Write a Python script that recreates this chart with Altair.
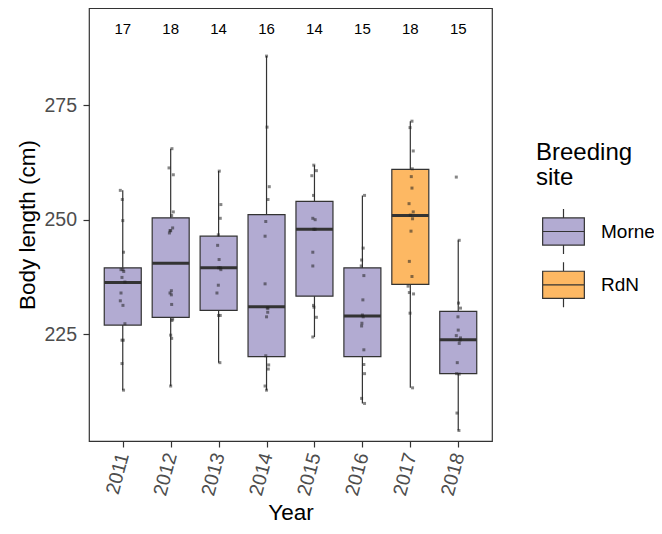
import altair as alt
import pandas as pd

# ---------------- data ----------------
years = [2011, 2012, 2013, 2014, 2015, 2016, 2017, 2018]
sites = ["Morne", "Morne", "Morne", "Morne", "Morne", "Morne", "RdN", "Morne"]
counts = [17, 18, 14, 16, 14, 15, 18, 15]
whisker_low = [212.8, 213.7, 218.8, 212.8, 224.4, 209.9, 213.3, 204.0]
q1 = [227.0, 228.7, 230.2, 220.1, 233.3, 220.1, 235.9, 216.4]
median = [236.3, 240.5, 239.5, 231.0, 247.9, 229.0, 250.9, 223.8]
q3 = [239.5, 250.4, 246.4, 251.1, 254.0, 239.5, 261.0, 230.0]
whisker_high = [256.4, 265.5, 260.6, 285.7, 261.9, 255.3, 271.5, 245.5]

len_2011 = [256.4, 254.4, 249.8, 242.9, 239.1, 239.1, 238.7, 237.4, 236.4, 234.0, 232.3, 231.3, 227.3, 223.7, 223.7, 218.6, 212.8]
jit_2011 = [-2.5, -0.5, 0, 0.8, -1.8, 0.2, 1.0, -0.8, 2.2, -1.8, -2.5, 0.2, 2.2, -0.8, 0.5, -0.8, 0.8]
len_2012 = [265.5, 261.3, 259.8, 251.7, 250.9, 248.2, 247.6, 247.6, 247.1, 234.5, 234.0, 233.6, 231.5, 228.3, 228.0, 224.8, 224.1, 213.7]
jit_2012 = [1.3, -1.7, 2.7, 2.7, 1.0, 2.0, -0.7, 0, -1.3, 0.7, -0.7, 0.7, 1.0, 2.0, 1.3, 0, 1.0, 0]
len_2013 = [260.6, 253.3, 250.3, 246.7, 244.4, 241.3, 239.5, 239.5, 239.1, 235.7, 234.0, 229.1, 229.1, 218.8]
jit_2013 = [0.7, 2.3, 1.7, -0.3, -1.0, 0.5, 0, 1.7, 2.3, -0.3, -1.7, 0, 1.7, 1.3]
len_2014 = [285.7, 270.2, 257.2, 254.4, 249.6, 246.4, 236.0, 230.7, 230.7, 229.8, 228.8, 220.3, 218.3, 217.4, 213.7, 212.8]
jit_2014 = [0, 0.5, 2.8, 1.5, -0.8, -1.5, -1.5, 0.8, 1.5, 1.2, 0, -0.8, 2.2, 1.8, -1.5, 0]
len_2015 = [261.9, 260.7, 259.6, 255.3, 250.3, 250.0, 247.9, 247.9, 242.9, 239.9, 231.3, 230.9, 228.7, 224.4]
jit_2015 = [-0.7, 2.0, -2.7, -1.0, -1.7, 0.7, -0.7, 0.7, -1.7, -1.7, -1.0, -0.5, 2.0, -1.7]
len_2016 = [255.3, 243.8, 241.2, 239.9, 237.8, 232.5, 229.2, 228.8, 227.4, 226.8, 221.6, 218.4, 216.4, 211.0, 209.9]
jit_2016 = [2.2, 0.8, -0.8, -1.2, 1.5, 0.5, 0, 0.8, -0.5, -0.8, 1.5, 1.5, 2.2, -0.8, 2.2]
len_2017 = [271.5, 270.1, 265.0, 261.1, 259.4, 256.9, 253.5, 251.7, 251.0, 250.2, 247.5, 240.9, 237.6, 235.5, 234.1, 233.8, 229.6, 213.3]
jit_2017 = [1.7, -0.3, 3.0, 2.0, 1.0, 1.7, -1.3, 3.0, 0, 2.3, 0.7, -1.0, 1.7, -2.3, -1.0, 3.3, -0.3, 2.3]
len_2018 = [259.3, 245.5, 231.8, 230.7, 228.8, 225.9, 224.7, 224.2, 223.7, 223.0, 218.8, 216.4, 216.3, 207.8, 204.0]
jit_2018 = [-2.0, 1.0, 0.3, 2.3, -0.3, 0, -2.0, 2.3, 1.7, 1.0, -1.0, -1.7, 1.0, -1.3, 0.7]

site_names = ["Morne", "RdN"]
site_colors = ["#B2ABD2", "#FDB863"]

# ---------------- tables ----------------
stats = pd.DataFrame({
    "year": years, "site": sites, "n": counts,
    "lo": whisker_low, "q1": q1, "med": median, "q3": q3, "hi": whisker_high,
})

all_len = [len_2011, len_2012, len_2013, len_2014, len_2015, len_2016, len_2017, len_2018]
all_jit = [jit_2011, jit_2012, jit_2013, jit_2014, jit_2015, jit_2016, jit_2017, jit_2018]
rows = []
for yr, ls, js in zip(years, all_len, all_jit):
    for v, j in zip(ls, js):
        rows.append({"year": yr, "len": v, "xj": yr + j / 49.1})
pts = pd.DataFrame(rows)

FONT = "Liberation Sans"
xscale = alt.Scale(domain=[2010.4, 2018.6], nice=False, zero=False)
yscale = alt.Scale(domain=[201.7, 296.2], nice=False, zero=False)
xaxis = alt.Axis(title="Year", values=years, format="d", labelAngle=-75, labelAlign="right",
                 labelBaseline="middle", labelPadding=6, grid=False, domain=False,
                 tickColor="#333333", tickSize=6, tickWidth=1.2,
                 labelColor="#4D4D4D", labelFontSize=19.5, labelFont=FONT,
                 titleColor="black", titleFontSize=22.5, titleFont=FONT, titleFontWeight="normal",
                 titlePadding=4)
yaxis = alt.Axis(title="Body length (cm)", values=[225, 250, 275], grid=False, domain=False,
                 tickColor="#333333", tickSize=6, tickWidth=1.2, labelPadding=6.5,
                 labelColor="#4D4D4D", labelFontSize=19.5, labelFont=FONT,
                 titleColor="black", titleFontSize=22.5, titleFont=FONT, titleFontWeight="normal",
                 titlePadding=4)

X = alt.X("year:Q", scale=xscale, axis=xaxis)

whisk = alt.Chart(stats).mark_rule(color="#333333", strokeWidth=1.2).encode(
    x=X, y=alt.Y("lo:Q", scale=yscale, axis=yaxis), y2="hi:Q")

box_path = "M-1,-0.65L1,-0.65L1,0.65L-1,0.65Z M-1,0L1,0 M0,-0.65L0,-1.08 M0,0.65L0,1.08"
box = alt.Chart(stats).mark_bar(size=37, stroke="#333333", strokeWidth=1.2, opacity=1).encode(
    x=X, y=alt.Y("q1:Q", scale=yscale, axis=yaxis), y2="q3:Q",
    fill=alt.Fill("site:N", scale=alt.Scale(domain=site_names, range=site_colors),
                  legend=alt.Legend(title=["Breeding", "site"], orient="none", legendX=447, legendY=133,
                                    titleFontSize=24, titleFont=FONT, titleFontWeight="normal",
                                    titleColor="black", titleLineHeight=25, titlePadding=20,
                                    labelFontSize=19, labelFont=FONT, labelColor="black",
                                    labelOffset=16, symbolType=box_path, symbolSize=1739,
                                    symbolOffset=6,
                                    symbolStrokeColor="#333333", symbolStrokeWidth=1.2,
                                    symbolOpacity=1, rowPadding=2.3)))

med = alt.Chart(stats).mark_tick(orient="horizontal", size=37, thickness=3, color="#333333", opacity=1).encode(
    x=X, y=alt.Y("med:Q", scale=yscale, axis=yaxis))

dots = alt.Chart(pts).mark_square(size=9, color="#222222", opacity=0.55).encode(
    x=alt.X("xj:Q", scale=xscale, axis=xaxis), y=alt.Y("len:Q", scale=yscale, axis=yaxis))

txt = alt.Chart(stats).mark_text(fontSize=15, font=FONT, color="black", baseline="middle").encode(
    x=X, y=alt.datum(291.7, scale=yscale), text="n:Q")

chart = alt.layer(whisk, box, med, dots, txt).properties(
    width=403, height=433,
    autosize=alt.AutoSizeParams(type="none"),
    padding={"left": 81, "top": 0, "right": 162, "bottom": 85},
).configure(background="white").configure_view(stroke="#333333", strokeWidth=1.2)

chart.save("out.html", embed_options={"renderer": "svg", "actions": False})
